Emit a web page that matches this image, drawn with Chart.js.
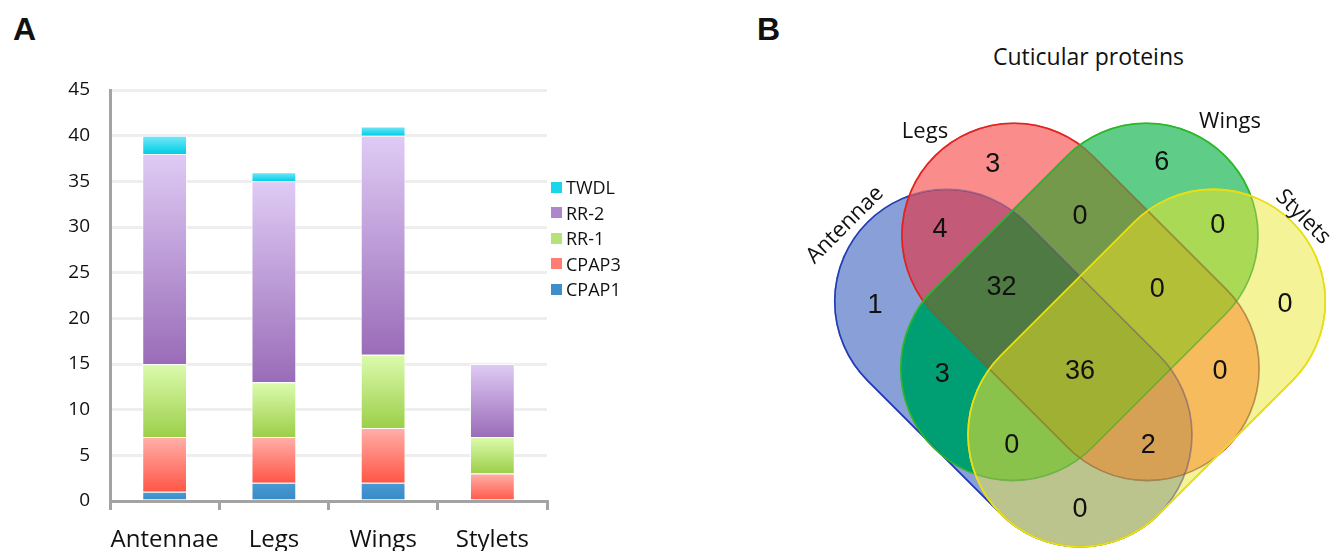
<!DOCTYPE html>
<html>
<head>
<meta charset="utf-8">
<script src="https://cdn.jsdelivr.net/npm/chart.js"></script>
<style>
  html, body { margin: 0; padding: 0; background: #fff; }
  body { width: 1331px; height: 551px; overflow: hidden; position: relative; font-family: 'Open Sans', sans-serif; color: #111; }
  .panel-tag { position: absolute; font: bold 32px 'Liberation Sans', Arial, sans-serif; line-height: 32px; }
  #barWrap { position: absolute; left: 0; top: 0; }
  #vennWrap { position: absolute; left: 740px; top: 0; }
  #vennTitle { position: absolute; left: 993px; top: 45px; font-size: 23px; line-height: 23px; white-space: nowrap; }
  .leg-row { position: absolute; left: 551px; height: 26px; display: flex; align-items: center; font-size: 18px; white-space: nowrap; }
  .leg-box { width: 11px; height: 11px; margin-right: 4px; }
</style>
</head>
<body>
<div class="panel-tag" style="left:13px; top:13px;">A</div>
<div class="panel-tag" style="left:757px; top:13px;">B</div>
<div id="vennTitle">Cuticular proteins</div>
<div id="barWrap"><canvas id="bars" width="640" height="600"></canvas></div>
<div id="vennWrap"><canvas id="venn" width="591" height="551"></canvas></div>
<div id="legend"></div>

<script>
// =====================  Dữ liệu  ===================== //
const categories = ['Antennae', 'Legs', 'Wings', 'Stylets'];
const cpap1 = [1, 2, 2, 0];
const cpap3 = [6, 5, 6, 3];
const rr1 = [8, 6, 8, 4];
const rr2 = [23, 22, 24, 8];
const twdl = [2, 1, 1, 0];
const yMax = 45;
const yStep = 5;

// Venn: A = Antennae, L = Legs, W = Wings, S = Stylets
const setNames = ['Antennae', 'Legs', 'Wings', 'Stylets'];
const regionKeys = ['A', 'L', 'W', 'S', 'AL', 'LW', 'WS', 'AW', 'LS', 'AS', 'ALW', 'LWS', 'ALWS', 'AWS', 'ALS'];
const regionCounts = [1, 3, 6, 0, 4, 0, 0, 3, 0, 0, 32, 0, 36, 0, 2];

Chart.defaults.font.family = "'Open Sans', sans-serif";
Chart.defaults.color = '#111';

// =====================  Biểu đồ cột chồng  ===================== //
const seriesStyle = [
    { label: 'CPAP1', data: cpap1, light: '#4a9bd4', dark: '#3889c4', swatch: '#3d8fca' },
    { label: 'CPAP3', data: cpap3, light: '#ffb0aa', dark: '#ff5646', swatch: '#ff7d72' },
    { label: 'RR-1',  data: rr1,   light: '#dcfbae', dark: '#9ccf49', swatch: '#b6e27a' },
    { label: 'RR-2',  data: rr2,   light: '#dfcbf5', dark: '#9a6cb8', swatch: '#ad86cc' },
    { label: 'TWDL',  data: twdl,  light: '#78e9f7', dark: '#00cde6', swatch: '#1ad6ec' }
];

function segGradient(ctx, light, dark) {
    const chart = ctx.chart;
    if (ctx.type !== 'data' || !chart.scales.y) return dark;
    const y = chart.scales.y;
    let base = 0;
    for (let d = 0; d < ctx.datasetIndex; d++) base += chart.data.datasets[d].data[ctx.dataIndex];
    const v = chart.data.datasets[ctx.datasetIndex].data[ctx.dataIndex];
    const top = y.getPixelForValue(base + v);
    const bot = y.getPixelForValue(base);
    if (!(bot > top)) return dark;
    const g = chart.ctx.createLinearGradient(0, top, 0, bot);
    g.addColorStop(0, light);
    g.addColorStop(1, dark);
    return g;
}

new Chart(document.getElementById('bars'), {
    type: 'bar',
    data: {
        labels: categories,
        datasets: seriesStyle.map(s => ({
            label: s.label,
            data: s.data,
            backgroundColor: c => segGradient(c, s.light, s.dark),
            borderColor: 'rgba(255,255,255,0.75)',
            borderWidth: 1,
            barPercentage: 0.41,
            categoryPercentage: 1
        }))
    },
    options: {
        responsive: false,
        animation: false,
        events: [],
        layout: { padding: { top: 90, right: 93, left: 0, bottom: 0 } },
        plugins: { legend: { display: false }, tooltip: { enabled: false } },
        scales: {
            x: {
                stacked: true,
                grid: { offset: true, drawOnChartArea: false, drawTicks: true, tickLength: 9, color: '#a3a3a3', lineWidth: 3 },
                border: { color: '#a3a3a3', width: 3 },
                ticks: { font: { size: 24 }, padding: 16, maxRotation: 0, autoSkip: false },
                afterFit: s => { s.height = 99; }
            },
            y: {
                stacked: true,
                min: 0,
                max: yMax,
                ticks: { stepSize: yStep, font: { size: 19 }, padding: 20 },
                grid: { color: '#eeeeee', lineWidth: 3, drawTicks: false },
                border: { color: '#a3a3a3', width: 3 },
                afterFit: s => { s.width = 110; }
            }
        }
    }
});

// chú thích (thứ tự ngược)
const legendEl = document.getElementById('legend');
seriesStyle.slice().reverse().forEach((s, i) => {
    const row = document.createElement('div');
    row.className = 'leg-row';
    row.style.top = (174 + i * 25.5) + 'px';
    row.innerHTML = '<span class="leg-box" style="background:' + s.swatch + '"></span><span>' + s.label + '</span>';
    legendEl.appendChild(row);
});

// =====================  Biểu đồ Venn  ===================== //
// bố cục tính theo đơn vị = bán kính đầu tròn
const VENN = { originX: 340, originY: 335, unit: 112, radius: 1 };
const vennShapes = {
    A: { from: [-1.19, 0.30], to: [0, -0.89], stroke: 'rgb(30,60,190)', tint: 'rgba(70,50,110,0.45)' },
    L: { from: [-0.59, 0.89], to: [0.60, -0.30], stroke: 'rgb(236,30,30)', tint: 'rgba(120,70,20,0.5)' },
    W: { from: [0.59, 0.89], to: [-0.60, -0.30], stroke: 'rgb(40,185,40)', tint: 'rgba(60,160,30,0.6)' },
    S: { from: [1.19, 0.30], to: [0, -0.89], stroke: 'rgb(232,222,20)', tint: 'rgb(232,222,20)' }
};
const regionColors = {
    A: '#889fd8', L: '#fa8c8c', W: '#5fcd88', S: '#f5f398',
    AL: '#c25a78', LW: '#75994b', WS: '#aada55', AW: '#009e73', LS: '#f5bb5c', AS: '#bac48c',
    ALW: '#507a44', LWS: '#b3bf37', ALWS: '#a0b032', AWS: '#8ac34b', ALS: '#d6a055'
};
const regionLabelPos = {
    A: [-1.83, 0.26], L: [-0.78, 1.52], W: [0.73, 1.54], S: [1.83, 0.27],
    AL: [-1.25, 0.94], LW: [0, 1.06], WS: [1.23, 0.98], AW: [-1.23, -0.35], LS: [1.25, -0.33],
    AS: [0, -1.56], ALW: [-0.70, 0.42], LWS: [0.69, 0.41], ALWS: [0, -0.33], AWS: [-0.61, -0.99], ALS: [0.61, -0.99]
};
const setLabelPos = [
    { pos: [-2.098, 0.982], rot: -Math.PI / 4, base: 'middle' },
    { pos: [-1.384, 1.759], rot: 0, base: 'alphabetic' },
    { pos: [1.339, 1.848], rot: 0, base: 'alphabetic' },
    { pos: [1.991, 1.054], rot: Math.PI / 4, base: 'middle' }
];

function capsulePath(chart, s) {
    const xs = chart.scales.x, ys = chart.scales.y;
    const x1 = xs.getPixelForValue(s.from[0]), y1 = ys.getPixelForValue(s.from[1]);
    const x2 = xs.getPixelForValue(s.to[0]), y2 = ys.getPixelForValue(s.to[1]);
    const r = xs.getPixelForValue(VENN.radius) - xs.getPixelForValue(0);
    const a = Math.atan2(y2 - y1, x2 - x1);
    const p = new Path2D();
    p.arc(x1, y1, r, a + Math.PI / 2, a + 3 * Math.PI / 2);
    p.arc(x2, y2, r, a - Math.PI / 2, a + Math.PI / 2);
    p.closePath();
    return p;
}

function clipOutside(ctx, path, w, h) {
    const out = new Path2D();
    out.rect(0, 0, w, h);
    out.addPath(path);
    ctx.clip(out, 'evenodd');
}

const vennPlugin = {
    id: 'venn',
    beforeDatasetsDraw(chart) {
        const ctx = chart.ctx;
        const w = chart.width, h = chart.height;
        const keys = Object.keys(vennShapes);
        const paths = {};
        keys.forEach(k => { paths[k] = capsulePath(chart, vennShapes[k]); });

        regionKeys.forEach(key => {
            ctx.save();
            keys.forEach(k => {
                if (key.includes(k)) ctx.clip(paths[k]);
                else clipOutside(ctx, paths[k], w, h);
            });
            ctx.fillStyle = regionColors[key];
            ctx.fillRect(0, 0, w, h);
            ctx.restore();
        });

        // viền: rõ ở ngoài, nhạt khi nằm dưới các hình vẽ sau
        ctx.lineWidth = 1.6;
        keys.forEach((k, i) => {
            const later = keys.slice(i + 1);
            ctx.save();
            ctx.strokeStyle = vennShapes[k].tint;
            ctx.stroke(paths[k]);
            ctx.restore();
            ctx.save();
            later.forEach(o => clipOutside(ctx, paths[o], w, h));
            ctx.strokeStyle = vennShapes[k].stroke;
            ctx.stroke(paths[k]);
            ctx.restore();
        });

        // tên các tập
        ctx.save();
        ctx.font = "22px 'Open Sans'";
        ctx.fillStyle = '#111';
        ctx.textAlign = 'center';
        setNames.forEach((name, i) => {
            const p = setLabelPos[i];
            ctx.save();
            ctx.translate(chart.scales.x.getPixelForValue(p.pos[0]), chart.scales.y.getPixelForValue(p.pos[1]));
            ctx.rotate(p.rot);
            ctx.textBaseline = p.base;
            ctx.fillText(name, 0, 0);
            ctx.restore();
        });
        ctx.restore();
    },
    afterDatasetsDraw(chart) {
        const ctx = chart.ctx;
        const meta = chart.getDatasetMeta(0);
        ctx.save();
        ctx.font = "27px 'Liberation Sans', Arial, sans-serif";
        ctx.fillStyle = '#111';
        ctx.textAlign = 'center';
        ctx.textBaseline = 'middle';
        meta.data.forEach((pt, i) => {
            ctx.fillText(String(regionCounts[i]), pt.x, pt.y);
        });
        ctx.restore();
    }
};

new Chart(document.getElementById('venn'), {
    type: 'scatter',
    data: {
        datasets: [{
            data: regionKeys.map(k => ({ x: regionLabelPos[k][0], y: regionLabelPos[k][1] })),
            pointRadius: 0
        }]
    },
    options: {
        responsive: false,
        animation: false,
        events: [],
        layout: { padding: 0 },
        plugins: { legend: { display: false }, tooltip: { enabled: false } },
        scales: {
            x: { display: false, min: -VENN.originX / VENN.unit, max: (591 - VENN.originX) / VENN.unit },
            y: { display: false, min: -(551 - VENN.originY) / VENN.unit, max: VENN.originY / VENN.unit }
        }
    },
    plugins: [vennPlugin]
});
</script>
</body>
</html>
